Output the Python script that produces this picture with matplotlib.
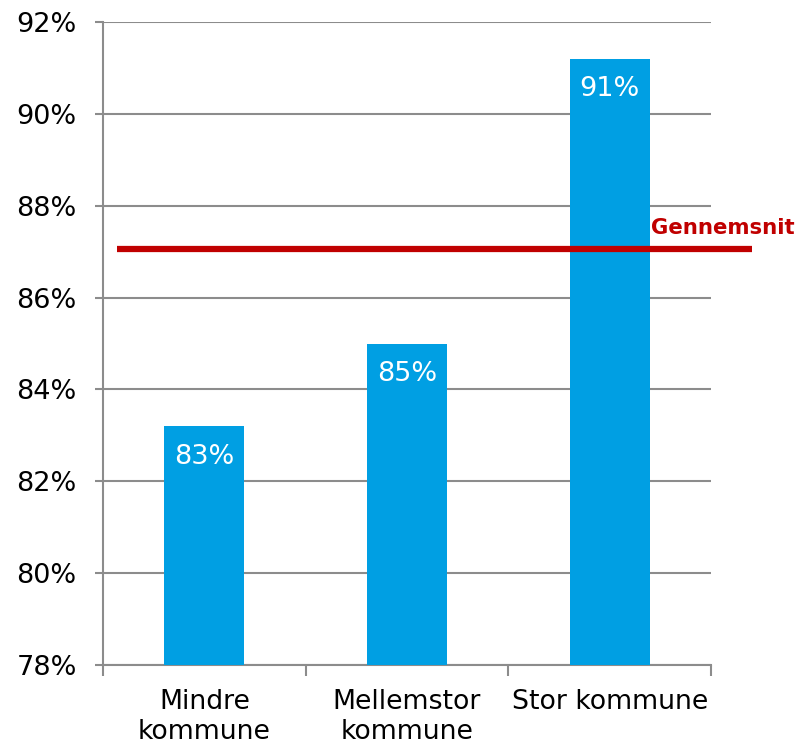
import matplotlib
matplotlib.use("Agg")
import matplotlib.pyplot as plt
from matplotlib.ticker import FuncFormatter, FixedLocator

categories = ["Mindre\nkommune", "Mellemstor\nkommune", "Stor kommune"]
values = [83.2, 85.0, 91.2]
bar_labels = ["83%", "85%", "91%"]
average = 87.05
average_label = "Gennemsnit"
y_ticks = [78, 80, 82, 84, 86, 88, 90, 92]

BAR_COLOR = "#009FE3"
RED = "#C00000"
GRID = "#8C8C8C"

plt.rcParams["font.family"] = ["DejaVu Sans"]

fig = plt.figure(figsize=(7.98, 7.44), dpi=100)
ax = fig.add_axes([0.1291, 0.1062, 0.7619, 0.8642])

x = list(range(len(categories)))
bars = ax.bar(x, values, width=0.395, color=BAR_COLOR, zorder=3)

for xi, v, lab in zip(x, values, bar_labels):
    ax.annotate(lab, (xi, v), xytext=(0, -22), textcoords="offset points",
                ha="center", va="center", color="white", fontsize=19.5, zorder=4)

ax.set_xlim(-0.5, 2.5)
ax.set_ylim(78, 92)
ax.set_yticks(y_ticks)
ax.yaxis.set_major_formatter(FuncFormatter(lambda v, p: f"{v:.0f}%"))
ax.grid(axis="y", color=GRID, linewidth=1.5, zorder=0)
ax.tick_params(axis="y", length=6, width=1.5, color=GRID, pad=13, labelsize=19.5)

ax.set_xticks(x)
ax.set_xticklabels(categories, fontsize=19.3, linespacing=1.2)
ax.xaxis.set_minor_locator(FixedLocator([-0.5, 0.5, 1.5, 2.5]))
ax.tick_params(axis="x", which="major", length=0, pad=17)
ax.tick_params(axis="x", which="minor", length=8, width=1.5, color=GRID)

for side in ["top", "right"]:
    ax.spines[side].set_visible(False)
for side in ["left", "bottom"]:
    ax.spines[side].set_color(GRID)
    ax.spines[side].set_linewidth(1.5)

# average line runs past the plotting area on the right
ax.plot([-0.43, 2.70], [average, average], color=RED, linewidth=4.5,
        solid_capstyle="butt", clip_on=False, zorder=5)
ax.text(2.205, average + 0.47, average_label, color=RED, fontsize=15.3,
        fontweight="bold", ha="left", va="center", clip_on=False, zorder=5)

fig.savefig("out.png", dpi=100)
